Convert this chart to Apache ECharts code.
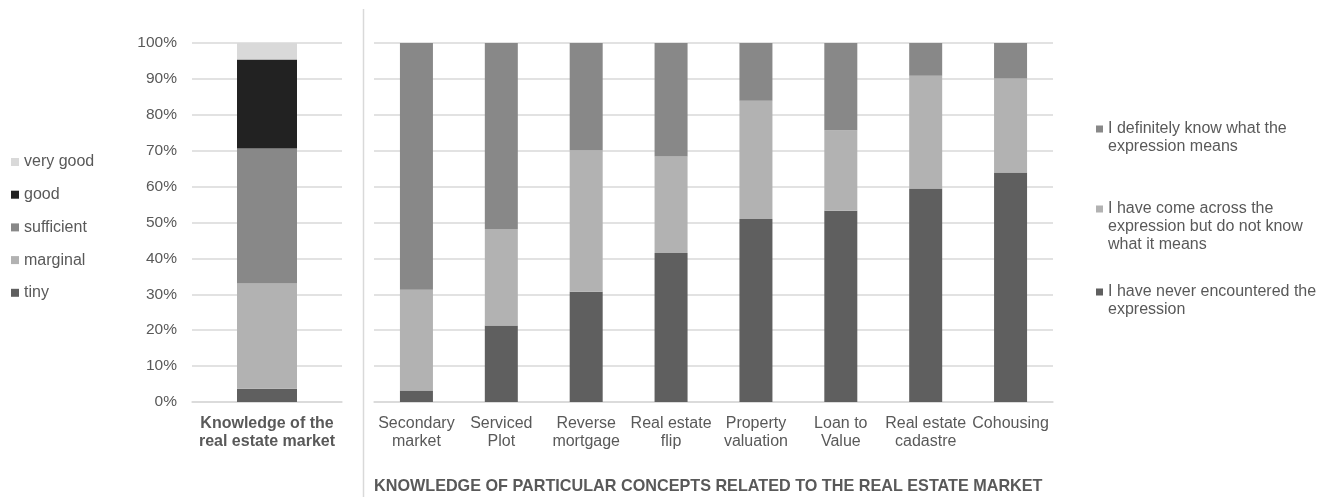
<!DOCTYPE html>
<html><head><meta charset="utf-8">
<script src="https://cdn.jsdelivr.net/npm/echarts@6/dist/echarts.min.js"></script>
<style>html,body{margin:0;padding:0;background:#fff}#c{width:1336px;height:497px}</style>
</head><body><div id="c"></div>
<script>
var leftCategories = ['Knowledge of the\nreal estate market'];
var levelNames = ['tiny', 'marginal', 'sufficient', 'good', 'very good'];
var levelValues = [[3.7], [29.3], [37.6], [24.8], [4.6]];
var levelColors = ['#5f5f5f', '#b2b2b2', '#888888', '#222222', '#d9d9d9'];

var conceptCategories = ['Secondary\nmarket', 'Serviced\nPlot', 'Reverse\nmortgage', 'Real estate\nflip', 'Property\nvaluation', 'Loan to\nValue', 'Real estate\ncadastre', 'Cohousing'];
var neverValues = [3.2, 21.3, 30.7, 41.5, 51.0, 53.3, 59.5, 63.9];
var acrossValues = [28.1, 26.9, 39.4, 26.9, 32.9, 22.4, 31.4, 26.2];
var knowValues = [68.7, 51.8, 29.9, 31.6, 16.1, 24.3, 9.1, 9.9];
var conceptNames = ['I have never encountered the\nexpression', 'I have come across the\nexpression but do not know\nwhat it means', 'I definitely know what the\nexpression means'];
var conceptColors = ['#5f5f5f', '#b2b2b2', '#888888'];
var yTicks = [0, 10, 20, 30, 40, 50, 60, 70, 80, 90, 100];

var FONT = '"Liberation Sans", Arial, sans-serif';
var TXT = '#595959';

var series = [];
levelNames.forEach(function (n, i) {
  series.push({ name: n, type: 'bar', stack: 'L', xAxisIndex: 0, yAxisIndex: 0,
    data: levelValues[i], barWidth: 60, itemStyle: { color: levelColors[i] } });
});
var conceptData = [neverValues, acrossValues, knowValues];
conceptNames.forEach(function (n, i) {
  series.push({ name: n, type: 'bar', stack: 'R', xAxisIndex: 1, yAxisIndex: 1,
    data: conceptData[i], barWidth: 33, itemStyle: { color: conceptColors[i] } });
});

// legend icon: 7px square aligned with the first text line of a multi-line item
function topSquareIcon(h) {
  return 'path://M0 5.5L7 5.5L7 12.5L0 12.5Z M0 0L0.01 0L0.01 0.01Z M0 ' + (h - 0.01) + 'L0.01 ' + (h - 0.01) + 'L0.01 ' + h + 'Z';
}
function rightLegend(name, lines, top) {
  var h = lines * 18;
  return { orient: 'vertical', left: 1096, top: top, padding: 0, data: [name],
    icon: topSquareIcon(h), itemWidth: 7, itemHeight: h, itemGap: 0,
    textStyle: { fontFamily: FONT, fontSize: 16, color: TXT, lineHeight: 18 } };
}

var option = {
  animation: false,
  textStyle: { fontFamily: FONT },
  title: { text: 'KNOWLEDGE OF PARTICULAR CONCEPTS RELATED TO THE REAL ESTATE MARKET',
    left: 374, top: 478, padding: 0,
    textStyle: { fontFamily: FONT, fontSize: 16.2, fontWeight: 'bold', color: TXT, lineHeight: 18 } },
  grid: [
    { left: 192, right: 1336 - 342, top: 43, bottom: 95 },
    { left: 374, right: 1336 - 1053, top: 43, bottom: 95 }
  ],
  xAxis: [
    { type: 'category', gridIndex: 0, data: leftCategories,
      axisLine: { show: true, lineStyle: { color: '#d9d9d9', width: 1.5 } }, axisTick: { show: false },
      axisLabel: { margin: 13, fontFamily: FONT, fontSize: 16, fontWeight: 'bold', color: TXT, lineHeight: 18 } },
    { type: 'category', gridIndex: 1, data: conceptCategories,
      axisLine: { show: true, lineStyle: { color: '#d9d9d9', width: 1.5 } }, axisTick: { show: false },
      axisLabel: { interval: 0, margin: 13, fontFamily: FONT, fontSize: 16, color: TXT, lineHeight: 18 } }
  ],
  yAxis: [
    { type: 'value', gridIndex: 0, min: 0, max: 100, interval: 10,
      axisLine: { show: false }, axisTick: { show: false },
      splitLine: { lineStyle: { color: '#d9d9d9', width: 1.5 } },
      axisLabel: { margin: 15, fontFamily: FONT, fontSize: 15.5, color: TXT,
        formatter: function (v) { return yTicks.indexOf(v) >= 0 ? v + '%' : ''; } } },
    { type: 'value', gridIndex: 1, min: 0, max: 100, interval: 10,
      axisLine: { show: false }, axisTick: { show: false },
      splitLine: { lineStyle: { color: '#d9d9d9', width: 1.5 } },
      axisLabel: { show: false } }
  ],
  legend: [
    { orient: 'vertical', left: 11, top: 153, padding: 0, itemGap: 14.7, itemWidth: 8, itemHeight: 8, icon: 'rect',
      textStyle: { fontFamily: FONT, fontSize: 16, color: TXT, lineHeight: 18 },
      data: ['very good', 'good', 'sufficient', 'marginal', 'tiny'] },
    rightLegend(conceptNames[2], 2, 120),
    rightLegend(conceptNames[1], 3, 200),
    rightLegend(conceptNames[0], 2, 283)
  ],
  graphic: [
    { type: 'line', shape: { x1: 363.5, y1: 9, x2: 363.5, y2: 497 },
      style: { stroke: '#d9d9d9', lineWidth: 1.5 } }
  ],
  series: series
};
var chart = echarts.init(document.getElementById('c'), null, { renderer: 'canvas' });
chart.setOption(option);
</script></body></html>
